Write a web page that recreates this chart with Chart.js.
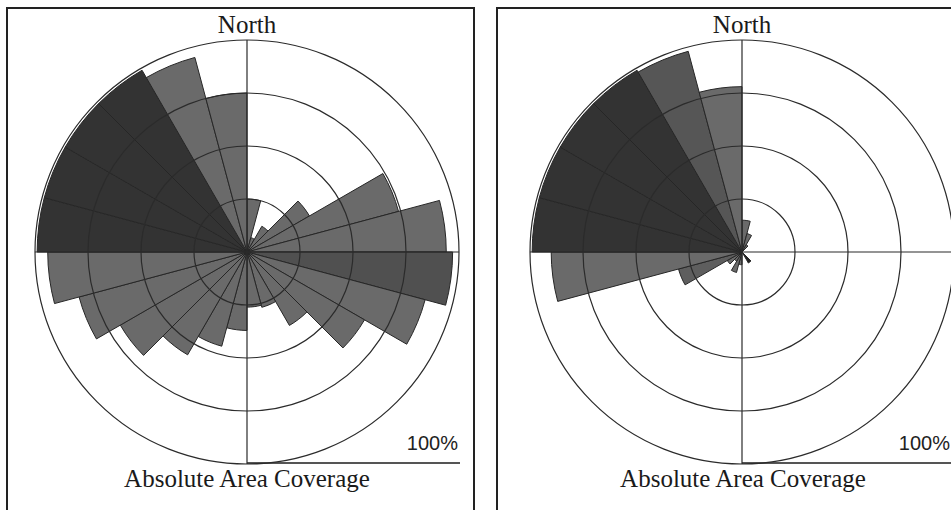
<!DOCTYPE html>
<html>
<head>
<meta charset="utf-8">
<script src="https://cdn.jsdelivr.net/npm/chart.js@4/dist/chart.umd.min.js"></script>
<style>
  body { margin: 0; width: 951px; height: 510px; overflow: hidden; background: #fff; position: relative; }
  .panel { position: absolute; top: 7px; height: 520px; border: 2px solid #222; box-sizing: border-box; }
  .txt { position: absolute; width: 400px; text-align: center; font-family: "Liberation Serif", "Times New Roman", serif; font-size: 25px; line-height: 1; color: #1a1a1a; }
  .pct { position: absolute; width: 100px; text-align: right; font-family: "Liberation Sans", Arial, sans-serif; font-size: 20px; line-height: 1; color: #222; }
  .bar { position: absolute; top: 462px; height: 1.5px; background: #555; }
  canvas { position: absolute; }
</style>
</head>
<body>
<div class="panel" style="left:6px; width:469px;"></div>
<div class="panel" style="left:496px; width:520px;"></div>

<div class="txt" style="left:47px; top:12px;">North</div>
<div class="txt" style="left:47px; top:466px;">Absolute Area Coverage</div>
<div class="pct" style="left:358px; top:433px;">100%</div>
<div class="bar" style="left:247px; width:213px;"></div>
<canvas id="roseA" width="430" height="430" style="left:32px; top:37px;"></canvas>

<div class="txt" style="left:542px; top:12px;">North</div>
<div class="txt" style="left:543px; top:466px;">Absolute Area Coverage</div>
<div class="pct" style="left:850px; top:433px;">100%</div>
<div class="bar" style="left:742px; width:215px;"></div>
<canvas id="roseB" width="430" height="430" style="left:527px; top:37px;"></canvas>

<script>
// 24 sectors of 15 degrees, clockwise from North
const sectors = ["0°", "15°", "30°", "45°", "60°", "75°", "90°", "105°", "120°", "135°", "150°", "165°",
  "180°", "195°", "210°", "225°", "240°", "255°", "270°", "285°", "300°", "315°", "330°", "345°"];

// coverage, percent of the outer ring
const leftCoverage = [25, 7, 14, 34, 74, 94, 97, 87, 64, 40, 27, 26,
  37, 46, 56, 69, 82, 94, 99, 99, 99, 99, 95, 75];
const rightCoverage = [15, 9, 4, 0, 0, 0, 0, 0, 0, 6, 0, 0,
  6, 10, 5, 8, 31, 90, 99, 99, 99, 99, 98, 78];

const DARK = "#333333";
const MID = "#6a6a6a";
const leftShades = [MID, MID, MID, MID, MID, MID, "#505050", MID, MID, MID, MID, MID,
  MID, MID, MID, MID, MID, MID, DARK, DARK, DARK, DARK, MID, MID];
const rightShades = [MID, MID, MID, MID, MID, MID, MID, MID, MID, "#222222", MID, MID,
  MID, MID, MID, MID, "#5e5e5e", MID, DARK, DARK, DARK, DARK, "#565656", MID];

function makeRose(id, values, shades) {
  return new Chart(document.getElementById(id), {
    type: "polarArea",
    data: {
      labels: sectors,
      datasets: [{
        data: values,
        backgroundColor: shades,
        borderColor: "#262626",
        borderWidth: 1,
      }],
    },
    options: {
      responsive: false,
      animation: false,
      layout: { padding: 3 },
      plugins: { legend: { display: false }, tooltip: { enabled: false } },
      scales: {
        r: {
          min: 0,
          max: 100,
          ticks: { display: false, stepSize: 25 },
          grid: { color: "#2b2b2b", lineWidth: 1.2, circular: true, z: 1 },
          angleLines: {
            display: true,
            color: "#2b2b2b",
            lineWidth: (ctx) => (ctx.index % 6 === 0 ? 1.2 : 0),
          },
          pointLabels: { display: false },
        },
      },
    },
  });
}

makeRose("roseA", leftCoverage, leftShades);
makeRose("roseB", rightCoverage, rightShades);
</script>
</body>
</html>
